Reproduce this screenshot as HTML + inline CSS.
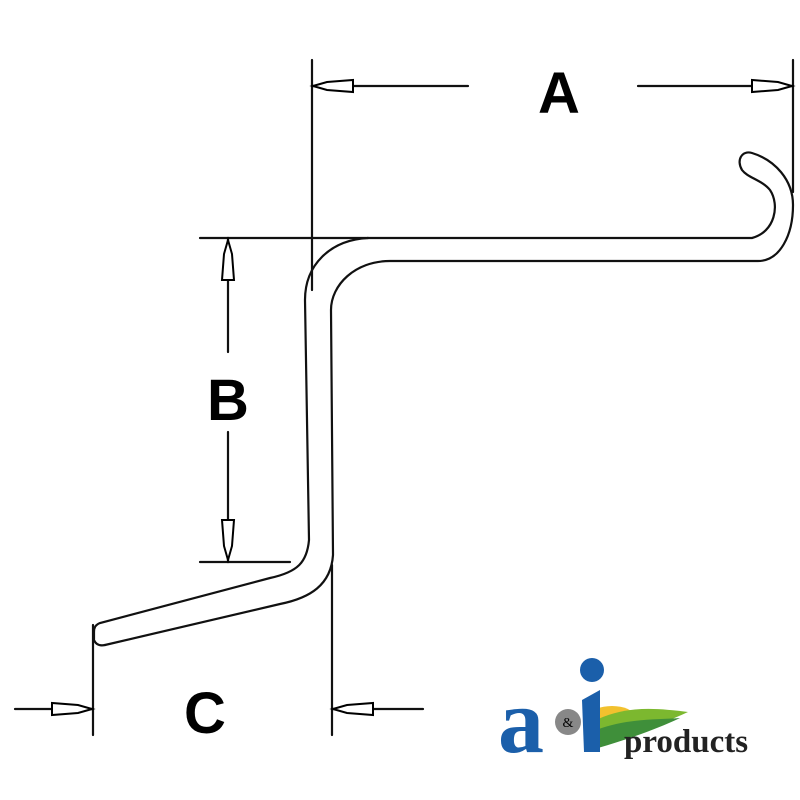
<!DOCTYPE html><html><head><style>body{margin:0;background:#fff}svg{display:block}</style></head><body>
<svg width="800" height="800" viewBox="0 0 800 800" xmlns="http://www.w3.org/2000/svg">
<defs>
<g id="ar"><path d="M0,0 L14,-4 L40,-6 L40,6 L14,4 Z" fill="#fff" stroke="#000" stroke-width="2"/></g>
</defs>
<g fill="none" stroke="#111" stroke-width="2.2" stroke-linecap="round">
<line x1="312" y1="60" x2="312" y2="290"/>
<line x1="793" y1="60" x2="793" y2="192"/>
<line x1="200" y1="238" x2="368" y2="238"/>
<line x1="200" y1="562" x2="290" y2="562"/>
<line x1="93" y1="625" x2="93" y2="735"/>
<line x1="332" y1="565" x2="332" y2="735"/>
<line x1="312" y1="86" x2="468" y2="86"/>
<line x1="638" y1="86" x2="793" y2="86"/>
<line x1="228" y1="238" x2="228" y2="352"/>
<line x1="228" y1="432" x2="228" y2="562"/>
<line x1="15" y1="709" x2="93" y2="709"/>
<line x1="332" y1="709" x2="423" y2="709"/>
<path d="M368,238 L752,238 C775,232 780,205 770,190 C762,180 748,178 742,170 C736,160 742,150 752,153 C775,160 793,180 793,205 C793,235 780,261 758,261 L390,261 C355,261 331,285 331,310 L333,555 C331,585 310,598 280,604 L105,645"/>
<path d="M368,238 C330,240 305,265 305,300 L309,540 C307,562 298,572 270,578 L100,623 C95,625 94,628 94,632 L94,640 C96,645 100,646 105,645"/>
</g>
<use href="#ar" transform="translate(313,86)"/>
<use href="#ar" transform="translate(792,86) rotate(180)"/>
<use href="#ar" transform="translate(228,240) rotate(90)"/>
<use href="#ar" transform="translate(228,560) rotate(-90)"/>
<use href="#ar" transform="translate(92,709) rotate(180)"/>
<use href="#ar" transform="translate(333,709)"/>
<g font-family="Liberation Sans, sans-serif" font-weight="bold" font-size="58" fill="#000" text-anchor="middle">
<text x="559" y="113">A</text>
<text x="228" y="420">B</text>
<text x="205" y="733">C</text>
</g>
<g>
<ellipse cx="612" cy="716" rx="22" ry="10" fill="#f2c12e"/>
<path d="M592,722 C625,705 655,708 688,712 C660,725 630,735 596,745 Z" fill="#7cb82f"/>
<path d="M596,730 C628,718 655,720 680,718 C655,730 625,740 598,748 Z" fill="#3f8f3a"/>
<text x="498" y="752" font-family="Liberation Serif, serif" font-weight="bold" font-size="92" fill="#1b5faa">a</text>
<circle cx="568" cy="722" r="13" fill="#888"/><text x="568" y="727" font-size="14" text-anchor="middle" font-family="Liberation Serif,serif" fill="#000">&amp;</text>
<path d="M582,700 L600,690 L600,752 L584,752 Z" fill="#1b5faa"/>
<circle cx="592" cy="670" r="12" fill="#1b5faa"/>
<text x="624" y="752" font-family="Liberation Serif, serif" font-weight="bold" font-size="33" fill="#222">products</text>
</g>
</svg>
</body></html>
